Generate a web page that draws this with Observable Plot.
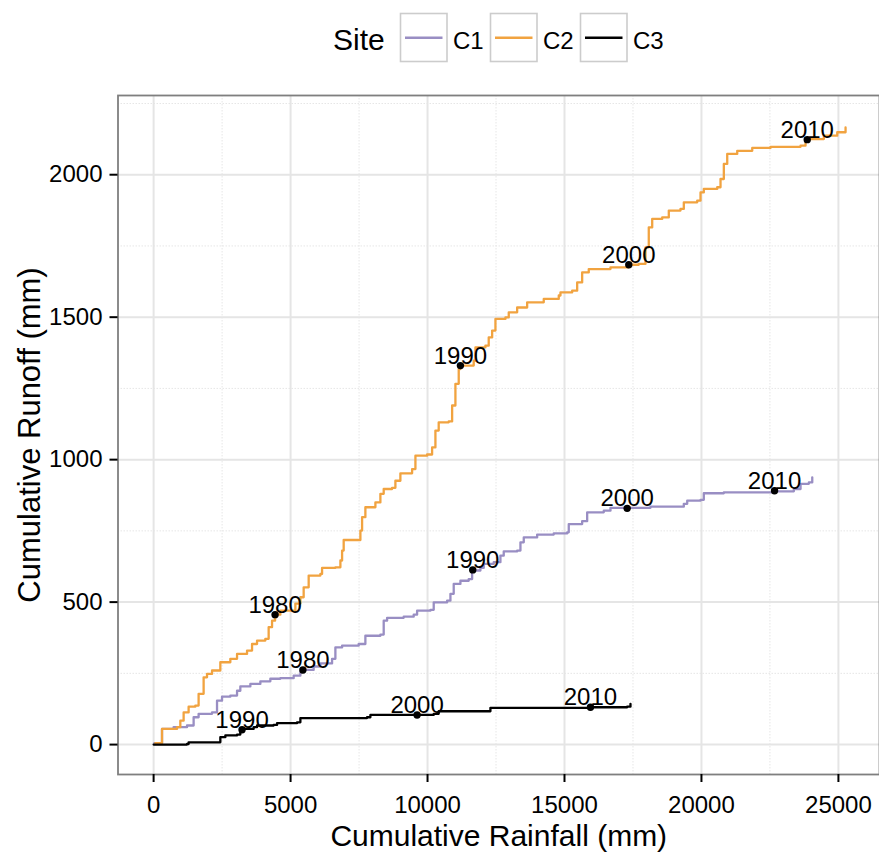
<!DOCTYPE html>
<html><head><meta charset="utf-8">
<script src="https://cdn.jsdelivr.net/npm/d3@7"></script>
<script src="https://cdn.jsdelivr.net/npm/@observablehq/plot@0.6"></script>
<style>
body{margin:0;background:#fff;font-family:"Liberation Sans",Arial,sans-serif;}
#legend svg,#chart svg{display:block}
</style>
</head><body>
<div id="legend"></div><div id="chart"></div>
<script>
const sites = ["C1", "C2", "C3"];
const siteColors = ["#998ec3", "#f1a340", "#000000"];

// [cumulative rainfall (mm), cumulative runoff (mm)]
const c1Points = [[26,5],[307,55],[730,61],[1220,67],[1461,96],[1643,108],[2133,113],[2315,154],[2498,168],[2801,172],[3046,189],[3166,204],[3532,213],[3897,222],[4262,231],[4627,233],[5113,242],[5358,254],[5449,262],[5843,274],[6089,285],[6515,301],[6636,341],[6881,347],[7487,353],[7731,382],[8279,386],[8400,435],[8524,445],[9130,449],[9495,456],[9619,470],[10105,473],[10226,499],[10715,505],[10836,529],[10956,564],[11201,575],[11504,581],[11628,611],[11931,620],[12052,634],[12417,640],[12661,663],[12782,678],[13272,681],[13392,710],[13513,727],[14002,737],[14608,741],[15098,745],[15156,774],[15645,784],[15828,815],[16434,821],[16679,831],[18140,835],[19356,845],[19480,856],[19966,859],[20086,882],[20817,885],[22584,889],[23373,897],[23618,915],[23921,920],[24045,938]];
const c2Points = [[62,5],[307,55],[855,61],[975,84],[1096,113],[1278,133],[1523,137],[1643,178],[1826,236],[1950,248],[2133,260],[2436,289],[2801,301],[3046,318],[3411,330],[3594,353],[3776,365],[4079,371],[4200,412],[4324,435],[4434,456],[4627,470],[5175,495],[5358,517],[5478,552],[5661,593],[6089,599],[6150,620],[6636,622],[6819,646],[6881,681],[6939,718],[7428,718],[7549,751],[7611,798],[7731,833],[8097,850],[8279,880],[8400,897],[8706,901],[8827,926],[9009,952],[9437,967],[9558,1014],[9985,1018],[10167,1043],[10288,1102],[10408,1131],[10774,1134],[10898,1190],[11018,1266],[11139,1318],[11201,1330],[11446,1330],[11686,1347],[11748,1394],[12113,1400],[12234,1429],[12359,1453],[12479,1494],[12844,1499],[12965,1517],[13272,1534],[13637,1552],[14243,1564],[14791,1576],[14853,1587],[15280,1593],[15463,1622],[15645,1657],[15886,1669],[16679,1675],[17347,1684],[17712,1687],[17957,1745],[18077,1815],[18202,1845],[18567,1850],[18808,1874],[19235,1880],[19356,1903],[19845,1909],[19966,1938],[20086,1950],[20576,1956],[20696,1985],[20817,2038],[20941,2073],[21306,2084],[21854,2094],[22522,2098],[23618,2102],[23800,2125],[24286,2125],[24469,2137],[24958,2149],[25261,2166]];
const c3Points = [[0,0],[1220,2],[1278,8],[2315,8],[2436,26],[2619,32],[3046,35],[3166,49],[3228,55],[3652,61],[3776,67],[4382,69],[4507,75],[5237,78],[5358,93],[7793,96],[7914,104],[10226,108],[10408,117],[12176,117],[12296,129],[15948,131],[17288,133],[17409,143]];

// decade markers
const labelSite   = ["C2","C2","C2","C2","C1","C1","C1","C1","C3","C3","C3"];
const labelYear   = ["1980","1990","2000","2010","1980","1990","2000","2010","1990","2000","2010"];
const labelRain   = [4434,11201,17347,23862,5449,11650,17288,22668,3228,9619,15948];
const labelRunoff = [456,1330,1684,2123,262,613,829,891,52,104,131];

const xTicks = [0,5000,10000,15000,20000,25000];
const yTicks = [0,500,1000,1500,2000];
const xMinor = [2500,7500,12500,17500,22500];
const yMinor = [250,750,1250,1750,2250];

const FONT = '"Liberation Sans", Arial, sans-serif';

// ---------- legend (above the plot) ----------
const legendH = 80;
const lg = d3.select("#legend").append("svg").attr("width", 879).attr("height", legendH)
  .style("font-family", FONT);
lg.append("text").attr("x", 333).attr("y", 49.5).attr("font-size", 30).attr("fill", "#000").text("Site");
const keyX = [400.5, 490.5, 580.5];
const labX = [453, 543, 633];
sites.forEach((s, i) => {
  lg.append("rect").attr("x", keyX[i]).attr("y", 13.5).attr("width", 46.5).attr("height", 48)
    .attr("fill", "#fff").attr("stroke", "#cccccc").attr("stroke-width", 1.6);
  lg.append("line").attr("x1", keyX[i] + 4.5).attr("x2", keyX[i] + 42).attr("y1", 37.7).attr("y2", 37.7)
    .attr("stroke", siteColors[i]).attr("stroke-width", 2.4);
  lg.append("text").attr("x", labX[i]).attr("y", 49.3).attr("font-size", 24).attr("fill", "#000").text(s);
});

// ---------- plot ----------
const rows = [];
[[sites[0], c1Points], [sites[1], c2Points], [sites[2], c3Points]].forEach(([s, pts]) => {
  pts.forEach(([r, q]) => rows.push({site: s, rain: r, runoff: q}));
});
const labels = labelYear.map((y, i) => ({site: labelSite[i], year: y, rain: labelRain[i], runoff: labelRunoff[i]}));

const chart = Plot.plot({
  width: 879,
  height: 858 - legendH,
  marginTop: 95 - legendH,
  marginBottom: 84,
  marginLeft: 117.5,
  marginRight: 0,
  style: {fontFamily: FONT, background: "#fff", overflow: "visible"},
  x: {domain: [-1300, 26500]},
  y: {domain: [-105, 2278]},
  color: {domain: sites, range: siteColors},
  marks: [
    Plot.gridX(xMinor, {stroke: "#e6e6e6", strokeOpacity: 1, strokeWidth: 1, strokeDasharray: "1.5,1.5"}),
    Plot.gridY(yMinor, {stroke: "#e6e6e6", strokeOpacity: 1, strokeWidth: 1, strokeDasharray: "1.5,1.5"}),
    Plot.gridX(xTicks, {stroke: "#e5e5e5", strokeOpacity: 1, strokeWidth: 2}),
    Plot.gridY(yTicks, {stroke: "#e5e5e5", strokeOpacity: 1, strokeWidth: 2}),
    Plot.line(rows, {x: "rain", y: "runoff", z: "site", stroke: "site", curve: "step-after", strokeWidth: 2.3}),
    Plot.dot(labels, {x: "rain", y: "runoff", r: 3.7, fill: "#000", stroke: "none"}),
    Plot.text(labels, {x: "rain", y: "runoff", text: "year", dy: -2, lineAnchor: "bottom", textAnchor: "middle", fontSize: 24, fill: "#000"}),
    Plot.frame({stroke: "#7f7f7f", strokeWidth: 1.8}),
    Plot.axisX({ticks: xTicks, tickSize: 8, tickPadding: 13, fontSize: 24, strokeWidth: 2, label: null, tickFormat: d => String(d)}),
    Plot.axisY({ticks: yTicks, tickSize: 8, tickPadding: 7.5, fontSize: 24, strokeWidth: 2, label: null, tickFormat: d => String(d)}),
    Plot.text(["Cumulative Rainfall (mm)"], {frameAnchor: "bottom", textAnchor: "middle", lineAnchor: "bottom", dy: 71, fontSize: 30, fill: "#000"}),
    Plot.text(["Cumulative Runoff (mm)"], {frameAnchor: "left", textAnchor: "middle", lineAnchor: "bottom", rotate: -90, dx: -78.5, fontSize: 31, fill: "#000"})
  ]
});
document.getElementById("chart").appendChild(chart);
</script>
</body></html>
